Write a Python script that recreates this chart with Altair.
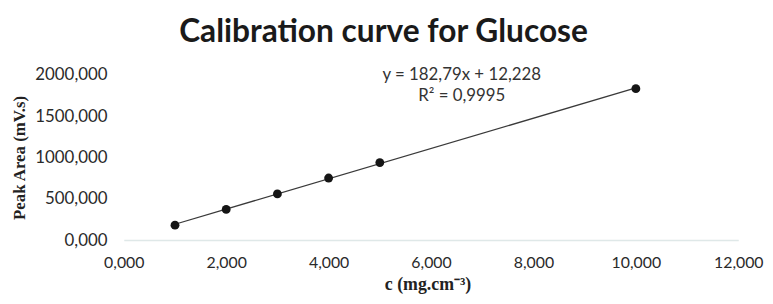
import altair as alt
import pandas as pd

conc = [1, 2, 3, 4, 5, 10]
area = [180, 371, 559, 751, 938, 1832]
x_ticks = [0, 2, 4, 6, 8, 10, 12]
y_ticks = [0, 500, 1000, 1500, 2000]
eq_text = ["y = 182,79x + 12,228", "R² = 0,9995"]
eq_x = [6.6, 6.6]
eq_y = [2000, 1748]

df = pd.DataFrame({"c": conc, "area": area})
ann = pd.DataFrame({"x": eq_x, "y": eq_y, "t": eq_text})

LBL = "replace(format(datum.value, '.3f'), '.', ',')"

xs = alt.Scale(domain=[0, 12], nice=False, zero=True)
ys = alt.Scale(domain=[0, 2000], nice=False)

xax = alt.Axis(values=x_ticks, labelExpr=LBL, grid=False, ticks=False,
               domain=True, domainColor="#dfe8e8", domainWidth=1.5,
               labelFlush=False, labelOverlap=False, labelBound=False,
               labelFont="Lato", labelFontSize=16, labelColor="#2a2a2a",
               labelPadding=15, title="c (mg.cm⁻³)", titleFont="Liberation Serif",
               titleFontWeight="bold", titleFontSize=18, titleColor="#222",
               titleX=307, titleY=45, titleAlign="center", titleBaseline="middle")
yax = alt.Axis(values=y_ticks, labelExpr=LBL, grid=False, ticks=False, domain=False,
               labelFlush=False, labelOverlap=False,
               labelFont="Lato", labelFontSize=17, labelColor="#2a2a2a",
               labelPadding=17, title="Peak Area (mV.s)", titleFont="Liberation Serif",
               titleFontWeight="bold", titleFontSize=17, titleColor="#222",
               titleX=-105, titleY=83.5, titleAngle=-90, titleAlign="center",
               titleBaseline="middle")

base = alt.Chart(df)

line = base.transform_regression("c", "area").mark_line(
    color="#3a3a3a", strokeWidth=1.3
).encode(x=alt.X("c:Q", scale=xs, axis=xax), y=alt.Y("area:Q", scale=ys, axis=yax))

pts = base.mark_circle(size=80, color="#151515", opacity=1).encode(
    x=alt.X("c:Q", scale=xs), y=alt.Y("area:Q", scale=ys)
)

txt = alt.Chart(ann).mark_text(font="Lato", fontSize=17, color="#333",
                               align="center", baseline="middle").encode(
    x=alt.X("x:Q", scale=xs), y=alt.Y("y:Q", scale=ys), text="t:N"
)

chart = alt.layer(line, pts, txt).properties(
    width=621, height=167,
    autosize=alt.AutoSizeParams(type="none"),
    padding={"left": 117, "top": 66, "right": 27, "bottom": 55},
    title=alt.TitleParams("Calibration curve for Glucose", font="Lato", fontSize=32,
                          fontWeight="bold", color="#1a1a1a", anchor="middle",
                          dx=-48, offset=17),
).configure_view(stroke=None)

chart.save("out.html", embed_options={"renderer": "svg", "actions": False})
